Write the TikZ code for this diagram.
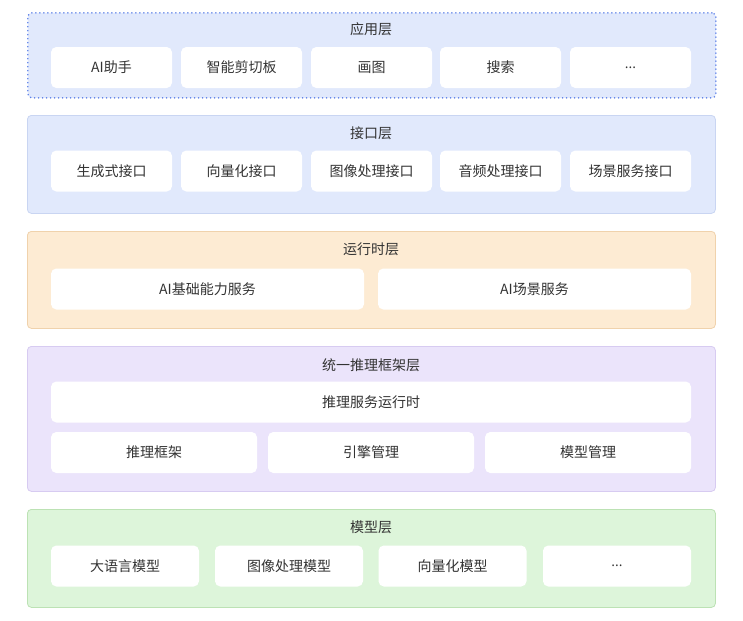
\documentclass[tikz,border=0pt]{standalone}
\usepackage{fontspec}
\newfontfamily\cjk{Noto Sans CJK SC}
\newfontfamily\latinsans{Open Sans}
\usepackage{tikz}
\usetikzlibrary{positioning}
\definecolor{blueFill}{HTML}{E1E9FC}
\definecolor{blueLine}{HTML}{C9D5F2}
\definecolor{blueDot}{HTML}{5B7FE8}
\definecolor{orangeFill}{HTML}{FDEBD3}
\definecolor{orangeLine}{HTML}{F0D2AC}
\definecolor{purpleFill}{HTML}{EBE4FB}
\definecolor{purpleLine}{HTML}{D7CBF1}
\definecolor{greenFill}{HTML}{DDF5DA}
\definecolor{greenLine}{HTML}{BCE2B4}
\definecolor{textGray}{HTML}{333333}

\begin{document}
\begin{tikzpicture}[
    x=0.75pt, y=-0.75pt,
    layer/.style={rectangle, rounded corners=3pt, line width=0.6pt, inner sep=0pt, anchor=north west},
    item/.style={rectangle, fill=white, rounded corners=4pt, inner sep=0pt, minimum height=30.75pt, font=\cjk\fontsize{10.5}{12}\selectfont, text=textGray},
    title/.style={font=\cjk\fontsize{10.5}{12}\selectfont, text=textGray}
]
    \useasboundingbox[fill=white] (0,0) rectangle (743,621);

    % Layer containers
    \node[layer, draw=blueDot, line width=1.3pt, line cap=round, dash pattern=on 0pt off 3pt, fill=blueFill, minimum width=516pt, minimum height=63.75pt] (app) at (27,12) {};
    \node[layer, draw=blueLine, fill=blueFill, minimum width=516pt, minimum height=73.5pt] (api) at (27,115) {};
    \node[layer, draw=orangeLine, fill=orangeFill, minimum width=516pt, minimum height=72.75pt] (runtime) at (27,231) {};
    \node[layer, draw=purpleLine, fill=purpleFill, minimum width=516pt, minimum height=108.75pt] (infer) at (27,346) {};
    \node[layer, draw=greenLine, fill=greenFill, minimum width=516pt, minimum height=73.5pt] (model) at (27,509) {};

    % Application layer
    \node[title] (appT) at (371,29) {应用层};
    \node[item, minimum width=90.75pt] (app1) at (111.5,67.5) {AI助手};
    \node[item, minimum width=90.75pt] (app2) at (241.5,67.5) {智能剪切板};
    \node[item, minimum width=90.75pt] (app3) at (371.5,67.5) {画图};
    \node[item, minimum width=90.75pt] (app4) at (500.5,67.5) {搜索};
    \node[item, minimum width=90.75pt] (app5) at (630.5,67.5) {\latinsans ...};

    % Interface layer
    \node[title] (apiT) at (371,133) {接口层};
    \node[item, minimum width=90.75pt] (api1) at (111.5,171) {生成式接口};
    \node[item, minimum width=90.75pt] (api2) at (241.5,171) {向量化接口};
    \node[item, minimum width=90.75pt] (api3) at (371.5,171) {图像处理接口};
    \node[item, minimum width=90.75pt] (api4) at (500.5,171) {音频处理接口};
    \node[item, minimum width=90.75pt] (api5) at (630.5,171) {场景服务接口};

    % Runtime layer
    \node[title] (runT) at (371,249) {运行时层};
    \node[item, minimum width=234.75pt] (run1) at (207.5,289) {AI基础能力服务};
    \node[item, minimum width=234.75pt] (run2) at (534.5,289) {AI场景服务};

    % Unified inference framework layer
    \node[title] (infT) at (371,365) {统一推理框架层};
    \node[item, minimum width=480pt] (inf0) at (371,402) {推理服务运行时};
    \node[item, minimum width=154.5pt] (inf1) at (154,452.5) {推理框架};
    \node[item, minimum width=154.5pt] (inf2) at (371,452.5) {引擎管理};
    \node[item, minimum width=154.5pt] (inf3) at (588,452.5) {模型管理};

    % Model layer
    \node[title] (modT) at (371,527) {模型层};
    \node[item, minimum width=111pt] (mod1) at (125,566) {大语言模型};
    \node[item, minimum width=111pt] (mod2) at (289,566) {图像处理模型};
    \node[item, minimum width=111pt] (mod3) at (452.5,566) {向量化模型};
    \node[item, minimum width=111pt] (mod4) at (617,566) {\latinsans ...};
\end{tikzpicture}
\end{document}
